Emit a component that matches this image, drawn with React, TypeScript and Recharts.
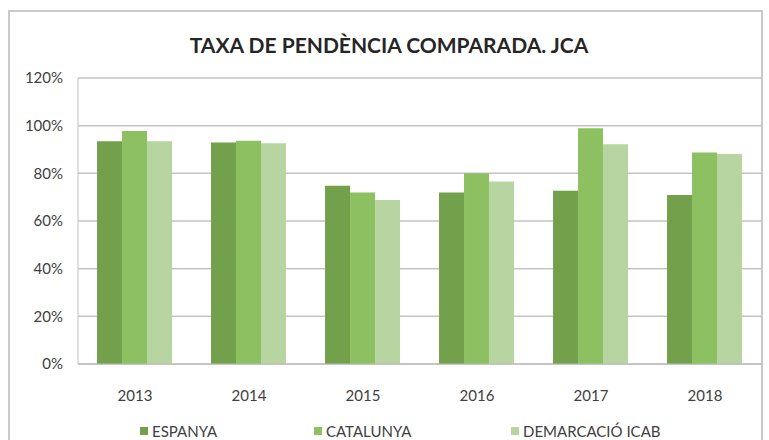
import { BarChart, Bar, XAxis, YAxis, CartesianGrid, Legend } from 'recharts';

const years = ['2013', '2014', '2015', '2016', '2017', '2018'];
const espanya = [93.5, 92.9, 74.8, 72.0, 72.7, 70.9];
const catalunya = [97.8, 93.7, 72.0, 80.0, 98.9, 88.7];
const demarcacio = [93.5, 92.6, 68.8, 76.6, 92.2, 88.1];
const yTicks = [0, 20, 40, 60, 80, 100, 120];

const SERIES = [
  { key: 'espanya', name: 'ESPANYA', color: '#73a04a' },
  { key: 'catalunya', name: 'CATALUNYA', color: '#8cc060' },
  { key: 'demarcacio', name: 'DEMARCACIÓ ICAB', color: '#b7d5a1' },
];

const FONT = 'Lato, "Open Sans", sans-serif';

const data = years.map((y, i) => ({
  year: y,
  espanya: espanya[i],
  catalunya: catalunya[i],
  demarcacio: demarcacio[i],
}));

const legendWidths = [174, 197, 200];

function LegendContent() {
  return (
    <div style={{ display: 'flex', paddingLeft: 140, paddingTop: 22, height: 40, boxSizing: 'border-box' }}>
      {SERIES.map((s, i) => (
        <div key={s.key} style={{ width: legendWidths[i], display: 'flex', alignItems: 'center' }}>
          <span style={{ width: 8, height: 8, background: s.color, display: 'inline-block', marginRight: 4 }} />
          <span style={{ fontFamily: FONT, fontSize: 15, color: '#404040' }}>{s.name}</span>
        </div>
      ))}
    </div>
  );
}

export default function App() {
  return (
    <div style={{ position: 'absolute', left: 0, top: 0, width: 769, height: 440, overflow: 'hidden', background: '#fff' }}>
      <div style={{ position: 'absolute', left: 8, top: 10, width: 751, height: 460, border: '2px solid #c9c9c9' }} />
      <div
        style={{
          position: 'absolute', left: 0, top: 32, width: 778, textAlign: 'center',
          fontFamily: FONT, fontWeight: 700, fontSize: 21, color: '#262626',
        }}
      >
        TAXA DE PENDÈNCIA COMPARADA. JCA
      </div>
      <div style={{ position: 'absolute', left: 0, top: 0 }}>
        <BarChart
          width={769}
          height={440}
          data={data}
          margin={{ top: 78, right: 7, bottom: 0, left: 0 }}
          barCategoryGap="16.7%"
          barGap={0}
        >
          <CartesianGrid vertical={false} stroke="#c8c2c2" strokeWidth={1.5} />
          <XAxis
            dataKey="year"
            height={36}
            stroke="#b8b8b8"
            tickLine={false}
            tickMargin={20}
            tick={{ fill: '#404040', fontSize: 15, fontFamily: FONT }}
          />
          <YAxis
            width={78}
            domain={[0, 120]}
            ticks={yTicks}
            stroke="#c8c2c2"
            tickLine={false}
            tickSize={0}
            tickMargin={15}
            tickFormatter={(v: number) => `${v}%`}
            tick={{ fill: '#404040', fontSize: 15, fontFamily: FONT }}
          />
          <Legend verticalAlign="bottom" height={40} content={<LegendContent />} />
          {SERIES.map((s) => (
            <Bar key={s.key} dataKey={s.key} name={s.name} fill={s.color} isAnimationActive={false} />
          ))}
        </BarChart>
      </div>
    </div>
  );
}
